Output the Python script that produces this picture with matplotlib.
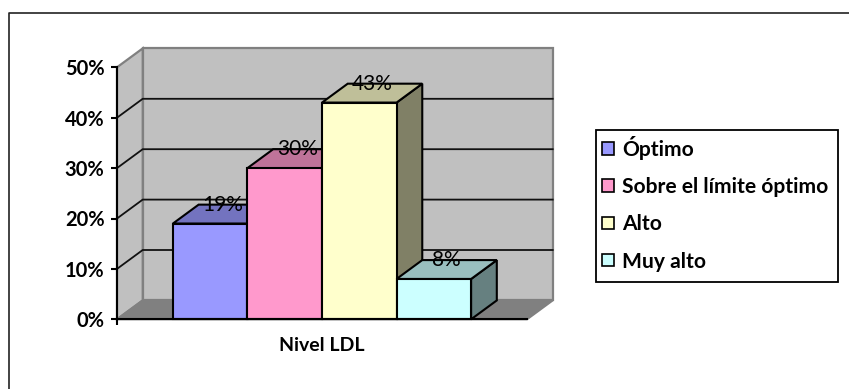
import matplotlib
matplotlib.use('Agg')
import matplotlib.pyplot as plt
from matplotlib.patches import Patch, Polygon, Rectangle
from matplotlib.lines import Line2D

categories = ['Óptimo', 'Sobre el límite óptimo', 'Alto', 'Muy alto']
values = [19, 30, 43, 8]
front_colors = ['#9999FF', '#FF99CC', '#FFFFCC', '#CCFFFF']
top_colors = ['#7373BF', '#BF7399', '#BFBF99', '#99BFBF']
side_colors = ['#666699', '#996680', '#808066', '#668080']
y_ticks = [0, 10, 20, 30, 40, 50]
group_label = 'Nivel LDL'

# depth of the 3D box, in data units
dx = 0.345
dy = 3.75
bar_left = 0.75
bar_width = 1.0

plt.rcParams['font.family'] = ['Lato', 'DejaVu Sans']

W, H = 849, 389
fig = plt.figure(figsize=(W / 100, H / 100), dpi=100)
ax = fig.add_axes([117 / W, (H - 319.3) / H, 410 / W, 252 / H])
ax.set_xlim(0, 5.5)
ax.set_ylim(0, 50)
ax.patch.set_visible(False)


def poly(points, color, edge, z, lw=1.5):
    ax.add_patch(Polygon(points, closed=True, facecolor=color, edgecolor=edge,
                         linewidth=lw, zorder=z, clip_on=False, joinstyle='miter'))


# outer frame, open on the right and at the bottom
fig.add_artist(Line2D([8.5 / W, 8.5 / W, 1], [0, 1 - 13 / H, 1 - 13 / H],
                      color='#222222', lw=1.2))

# walls and floor
top = y_ticks[-1]
poly([(dx, dy), (5.5 + dx, dy), (5.5 + dx, top + dy), (dx, top + dy)], '#C0C0C0', '#808080', 1, 1.6)
poly([(0, 0), (dx, dy), (dx, top + dy), (0, top)], '#C0C0C0', '#808080', 1, 1.6)
poly([(0, 0), (5.5, 0), (5.5 + dx, dy), (dx, dy)], '#808080', '#808080', 1.5)

# gridlines run along the side wall and the back wall
for t in y_ticks[1:-1]:
    ax.plot([0, dx, 5.5 + dx], [t, t + dy, t + dy], color='#111111', lw=1.3,
            zorder=2, clip_on=False, solid_joinstyle='miter')

for i, v in enumerate(values):
    x0 = bar_left + i * bar_width
    x1 = x0 + bar_width
    poly([(x1, 0), (x1 + dx, dy), (x1 + dx, v + dy), (x1, v)], side_colors[i], 'black', 3 + i)
    poly([(x0, v), (x1, v), (x1 + dx, v + dy), (x0 + dx, v + dy)], top_colors[i], 'black', 3 + i)
    ax.add_patch(Rectangle((x0, 0), bar_width, v, facecolor=front_colors[i], edgecolor='black',
                           linewidth=1.5, zorder=3 + i, clip_on=False))

# value labels sit over the back edge of each bar top
for i, v in enumerate(values):
    x0 = bar_left + i * bar_width
    ax.text(x0 + bar_width / 2 + dx / 2, v + dy, '%d%%' % v, ha='center', va='center',
            fontsize=15, color='black', zorder=10)

for side in ['top', 'right']:
    ax.spines[side].set_visible(False)
for side in ['left', 'bottom']:
    ax.spines[side].set_linewidth(1.5)
    ax.spines[side].set_zorder(9)

ax.set_yticks(y_ticks)
ax.set_yticklabels(['%d%%' % t for t in y_ticks], fontsize=14.5, fontweight='bold')
ax.tick_params(axis='y', length=4, width=1.5, pad=5)
ax.set_xticks([bar_left + 2 * bar_width])
ax.set_xticklabels([group_label], fontsize=14, fontweight='bold')
ax.tick_params(axis='x', length=0, pad=13)
ax.set_xticks([0], minor=True)
ax.tick_params(axis='x', which='minor', length=4, width=1.5)

# legend box is drawn on its own so the padding can differ per side
fig.add_artist(Rectangle((596 / W, 1 - 282 / H), 242 / W, 152 / H, transform=fig.transFigure,
                         facecolor='white', edgecolor='black', linewidth=1.3))
handles = [Patch(facecolor=c, edgecolor='black', linewidth=1.2) for c in front_colors]
leg = fig.legend(handles, categories, loc='upper left',
                 bbox_to_anchor=(602 / W, 1 - 136 / H), borderaxespad=0, borderpad=0,
                 prop={'size': 15.1, 'weight': 'bold'}, frameon=False,
                 handlelength=0.55, handleheight=0.55, handletextpad=0.42, labelspacing=0.82)
leg.set_zorder(5)

fig.savefig('out.png', dpi=100)
